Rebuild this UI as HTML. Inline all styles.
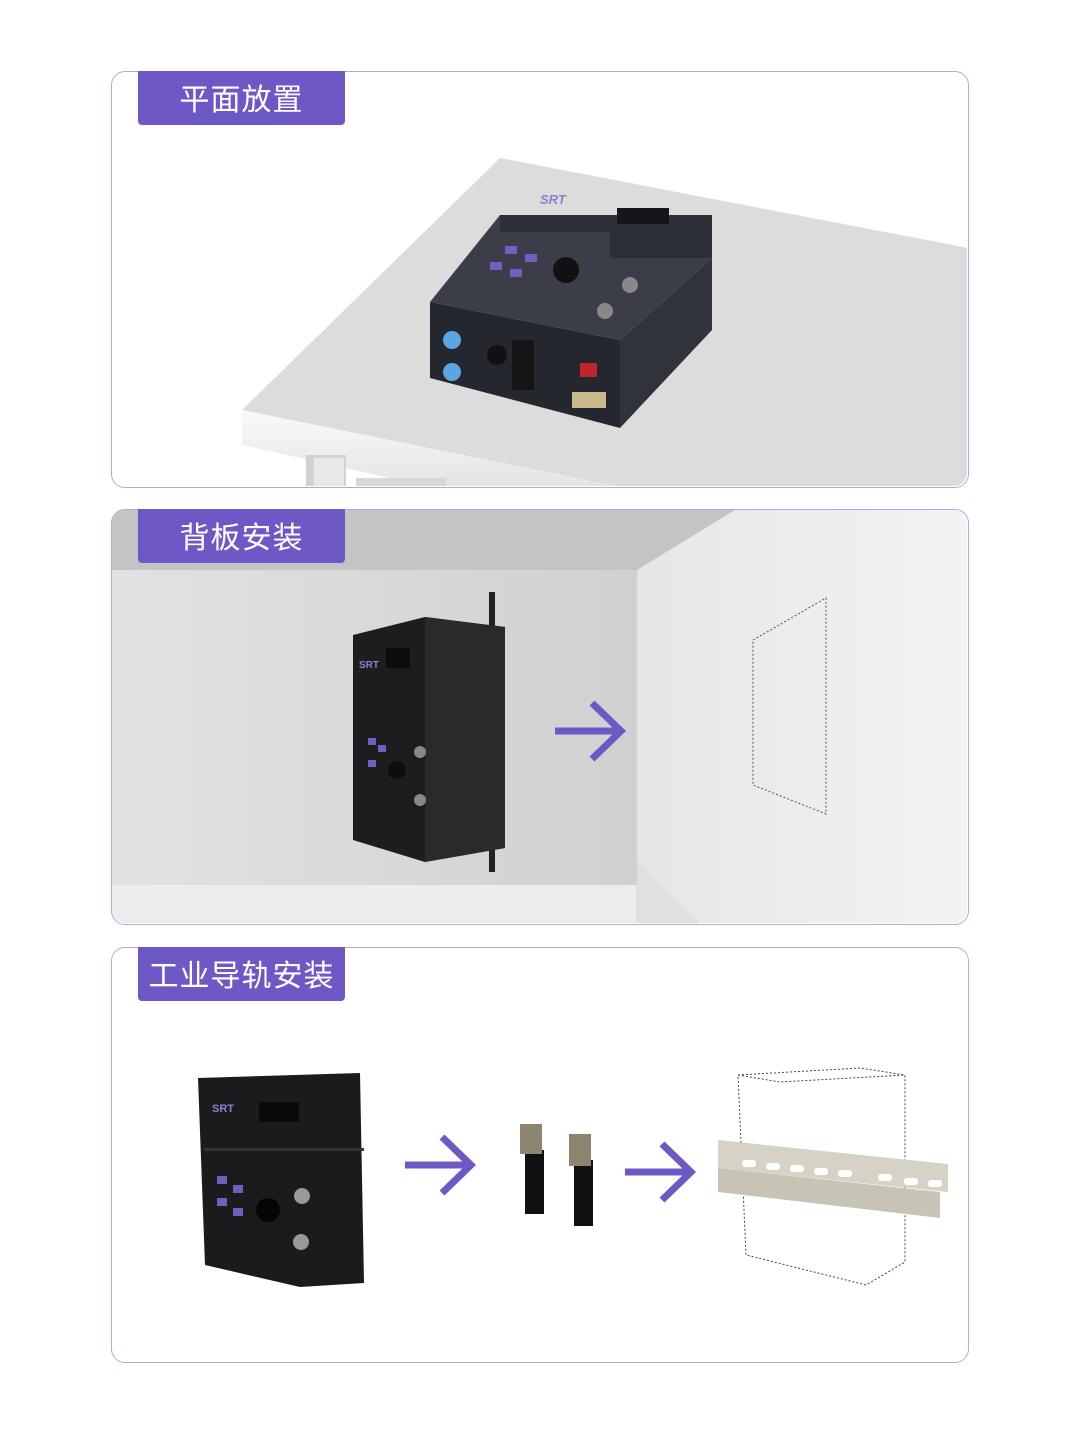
<!DOCTYPE html>
<html><head><meta charset="utf-8"><style>
html,body{margin:0;padding:0;background:#fff;}
body{width:1080px;height:1444px;position:relative;overflow:hidden;font-family:"Liberation Sans","Noto Sans CJK SC",sans-serif;}
.panel{position:absolute;left:111px;width:856px;border:1.5px solid #b3a8e6;border-radius:14px;overflow:hidden;background:#fff;}
.tab{position:absolute;left:138px;width:207px;height:54px;background:#6d58c6;color:#fff;font-size:30px;line-height:52px;text-align:center;border-radius:0 0 4px 4px;letter-spacing:1px;z-index:5;font-family:"Noto Sans CJK SC",sans-serif;}
svg{position:absolute;left:0;top:0;}
</style></head><body>

<div class="panel" style="top:71px;height:415px;"></div>
<div class="panel" style="top:509px;height:414px;"></div>
<div class="panel" style="top:947px;height:414px;"></div>

<svg width="1080" height="1444" viewBox="0 0 1080 1444">
<defs>
<clipPath id="c1"><rect x="112" y="72" width="855" height="414" rx="13"/></clipPath>
<clipPath id="c2"><rect x="112" y="510" width="855" height="413" rx="13"/></clipPath>
<linearGradient id="edge" x1="0" y1="0" x2="0" y2="1"><stop offset="0" stop-color="#fafafa"/><stop offset="1" stop-color="#e4e4e4"/></linearGradient>
<linearGradient id="wallL" x1="0" y1="0" x2="1" y2="0"><stop offset="0" stop-color="#e2e2e2"/><stop offset="1" stop-color="#d0d0d0"/></linearGradient>
<linearGradient id="wallR" x1="0" y1="0" x2="1" y2="0"><stop offset="0" stop-color="#e6e6e6"/><stop offset="1" stop-color="#f3f3f3"/></linearGradient>
</defs>

<!-- Panel 1 -->
<g clip-path="url(#c1)">
<polygon points="500,158 968,248 968,487 620,487 242,410" fill="#dcdcdc"/>
<polygon points="242,410 620,487 430,487 242,445" fill="url(#edge)"/>
<rect x="306" y="455" width="40" height="32" fill="#d2d2d2"/>
<rect x="314" y="458" width="30" height="29" fill="#e8e8e8"/>
<rect x="356" y="478" width="90" height="9" fill="#d8d8d8"/>
<!-- device -->
<polygon points="430,302 500,215 712,215 712,258 620,340" fill="#3b3e48"/>
<polygon points="500,215 712,215 712,258 610,258 610,232 500,232" fill="#2c2f38"/>
<polygon points="430,302 620,340 620,428 430,378" fill="#25272e"/>
<polygon points="620,340 712,258 712,330 620,428" fill="#30333b"/>
<rect x="617" y="208" width="52" height="16" fill="#15161a"/>
<text x="540" y="204" font-size="13" font-weight="bold" fill="#8d7fd6" font-style="italic">SRT</text>
<rect x="505" y="246" width="12" height="8" fill="#6f5fc0"/><rect x="525" y="254" width="12" height="8" fill="#6f5fc0"/>
<rect x="490" y="262" width="12" height="8" fill="#6f5fc0"/><rect x="510" y="269" width="12" height="8" fill="#6f5fc0"/>
<circle cx="566" cy="270" r="13" fill="#111"/>
<circle cx="630" cy="285" r="8" fill="#888"/><circle cx="605" cy="311" r="8" fill="#888"/>
<circle cx="452" cy="340" r="9" fill="#5aa6e0"/><circle cx="452" cy="372" r="9" fill="#5aa6e0"/>
<circle cx="497" cy="355" r="10" fill="#111"/><rect x="512" y="340" width="22" height="50" fill="#151515"/>
<rect x="580" y="363" width="17" height="14" fill="#c0252a"/>
<rect x="572" y="392" width="34" height="16" fill="#c9b88a"/>
</g>

<!-- Panel 2 -->
<g clip-path="url(#c2)">
<rect x="112" y="510" width="525" height="413" fill="url(#wallL)"/>
<polygon points="637,570 735,510 968,510 968,923 637,923" fill="url(#wallR)"/>
<polygon points="112,510 735,510 637,570 112,570" fill="#c4c4c4"/>
<rect x="112" y="885" width="525" height="38" fill="#ececec"/>
<polygon points="637,860 700,923 637,923" fill="#e0e0e0"/>
<line x1="637" y1="570" x2="637" y2="923" stroke="#d8d8d8"/>
<rect x="489" y="592" width="6" height="280" fill="#222"/>
<polygon points="353,635 425,617 505,627 505,848 425,862 353,840" fill="#1d1d1f"/>
<polygon points="425,617 505,627 505,848 425,862" fill="#2a2a2c"/>
<rect x="386" y="648" width="24" height="20" fill="#0c0c0c"/>
<text x="359" y="668" font-size="10" font-weight="bold" fill="#8d7fd6">SRT</text>
<rect x="368" y="738" width="8" height="7" fill="#6f5fc0"/><rect x="378" y="745" width="8" height="7" fill="#6f5fc0"/>
<rect x="368" y="760" width="8" height="7" fill="#6f5fc0"/>
<circle cx="397" cy="770" r="9" fill="#0d0d0d"/>
<circle cx="420" cy="752" r="6" fill="#888"/><circle cx="420" cy="800" r="6" fill="#888"/>
<g stroke="#6d58c6" stroke-width="7" fill="none">
<line x1="555" y1="731" x2="620" y2="731"/><polyline points="592,703 621,731 592,759"/>
</g>
<polygon points="753,640 826,598 826,814 753,785" fill="none" stroke="#555" stroke-width="1" stroke-dasharray="2,2"/>
</g>

<!-- Panel 3 -->
<polygon points="198,1078 360,1073 364,1283 300,1287 205,1265" fill="#1b1b1d"/>
<rect x="204" y="1148" width="160" height="3" fill="#333"/>
<rect x="259" y="1102" width="40" height="20" fill="#0a0a0a"/>
<text x="212" y="1112" font-size="11" font-weight="bold" fill="#8d7fd6">SRT</text>
<rect x="217" y="1176" width="10" height="8" fill="#6f5fc0"/><rect x="233" y="1185" width="10" height="8" fill="#6f5fc0"/>
<rect x="217" y="1198" width="10" height="8" fill="#6f5fc0"/><rect x="233" y="1208" width="10" height="8" fill="#6f5fc0"/>
<circle cx="268" cy="1210" r="12" fill="#050505"/>
<circle cx="302" cy="1196" r="8" fill="#999"/><circle cx="301" cy="1242" r="8" fill="#999"/>
<g stroke="#6d58c6" stroke-width="7" fill="none">
<line x1="405" y1="1165" x2="470" y2="1165"/><polyline points="442,1137 471,1165 442,1193"/>
<line x1="625" y1="1172" x2="690" y2="1172"/><polyline points="662,1144 691,1172 662,1200"/>
</g>
<rect x="525" y="1150" width="19" height="64" fill="#111"/><rect x="520" y="1124" width="22" height="30" fill="#8c8570"/>
<rect x="574" y="1160" width="19" height="66" fill="#111"/><rect x="569" y="1134" width="22" height="32" fill="#8c8570"/>
<polygon points="738,1075 860,1068 905,1075 905,1262 866,1285 746,1255" fill="none" stroke="#444" stroke-dasharray="2,2"/>
<polyline points="738,1075 780,1082 905,1075" fill="none" stroke="#444" stroke-dasharray="2,2"/>
<polygon points="718,1140 948,1164 948,1192 718,1168" fill="#d6d3c6"/>
<polygon points="718,1168 940,1192 940,1218 718,1192" fill="#c7c4b6"/>
<g fill="#fff">
<rect x="742" y="1160" width="14" height="7" rx="3"/><rect x="766" y="1163" width="14" height="7" rx="3"/><rect x="790" y="1165" width="14" height="7" rx="3"/><rect x="814" y="1168" width="14" height="7" rx="3"/><rect x="838" y="1170" width="14" height="7" rx="3"/><rect x="878" y="1174" width="14" height="7" rx="3"/><rect x="904" y="1178" width="14" height="7" rx="3"/><rect x="928" y="1180" width="14" height="7" rx="3"/>
</g>
</svg>

<div class="tab" style="top:71px;">平面放置</div>
<div class="tab" style="top:509px;">背板安装</div>
<div class="tab" style="top:947px;">工业导轨安装</div>
</body></html>
